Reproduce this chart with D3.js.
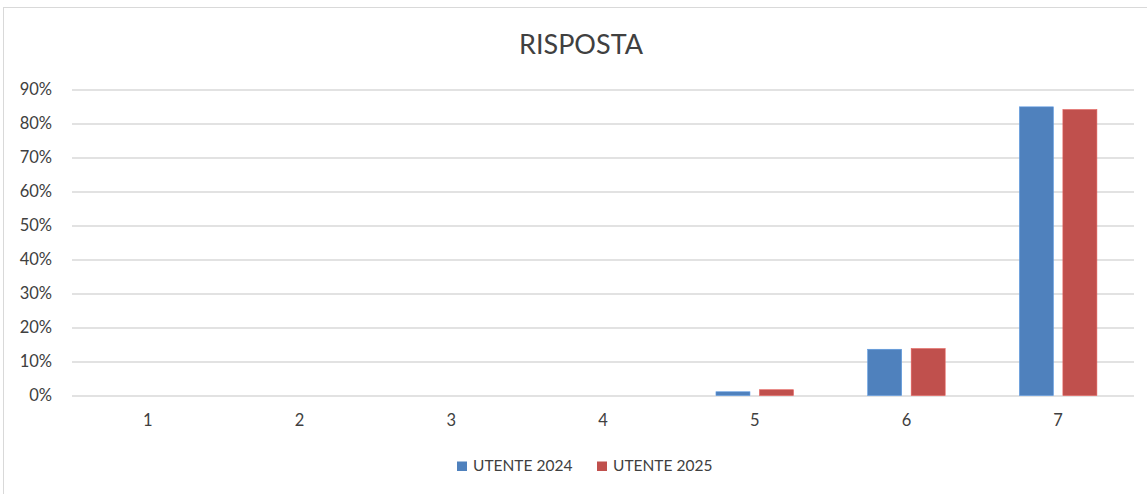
<!DOCTYPE html>
<html><head><meta charset="utf-8">
<script src="https://cdn.jsdelivr.net/npm/d3@7"></script>
<style>body{margin:0;background:#fff;} text{font-family:Lato,"Open Sans",sans-serif;}</style>
</head><body>
<svg id="c" width="1147" height="494"></svg>
<script>
const categories = ["1","2","3","4","5","6","7"];
const seriesNames = ["UTENTE 2024","UTENTE 2025"];
const utente2024 = [0,0,0,0,0.011,0.136,0.849];
const utente2025 = [0,0,0,0,0.017,0.138,0.841];
const yTicks = [0,0.1,0.2,0.3,0.4,0.5,0.6,0.7,0.8,0.9];
const colors = ["#4F81BD","#C0504D"];

const svg = d3.select("#c");
svg.append("rect").attr("x",3.5).attr("y",7.5).attr("width",1160).attr("height",500)
  .attr("fill","#fff").attr("stroke","#d9d9d9");

const x0 = 72, x1 = 1134, yTop = 89.5, yBot = 395.5;
const x = d3.scaleBand().domain(categories).range([x0,x1]).paddingInner(0).paddingOuter(0);
const y = d3.scaleLinear().domain([0,0.9]).range([yBot,yTop]);

const yAxis = d3.axisLeft(y).tickValues(yTicks).tickFormat(d3.format(".0%")).tickSize(-(x1-x0)).tickPadding(20);
const gy = svg.append("g").attr("transform",`translate(${x0},0)`).call(yAxis);
gy.select(".domain").remove();
gy.selectAll(".tick line").attr("stroke","#d9d9d9").attr("stroke-width",1.3);
gy.selectAll(".tick text").attr("fill","#404040").attr("font-size",16.5).attr("text-anchor","end").attr("x",-20);

const xAxis = d3.axisBottom(x).tickSize(0).tickPadding(19);
const gx = svg.append("g").attr("transform",`translate(0,${yBot})`).call(xAxis);
gx.select(".domain").remove();
gx.selectAll(".tick text").attr("fill","#404040").attr("font-size",16.5);

const barW = 34, gap = 9.5;
const series = [utente2024, utente2025];
series.forEach((vals, si) => {
  svg.append("g").selectAll("rect").data(vals).join("rect")
    .attr("x",(d,i)=> x(categories[i]) + x.bandwidth()/2 - (barW*2+gap)/2 + si*(barW+gap))
    .attr("width",barW)
    .attr("y",d=>y(d))
    .attr("height",d=>yBot-y(d))
    .attr("fill",colors[si])
    .attr("stroke", d3.color(colors[si]).brighter(0.5)).attr("stroke-width",0.6)
    .attr("display", d=> d>0 ? null : "none");
});

svg.append("text").attr("x",581).attr("y",54).attr("text-anchor","middle")
  .attr("font-size",27).attr("fill","#404040").text("RISPOSTA");

const leg = svg.append("g");
const legX = [457, 597];
seriesNames.forEach((n,i)=>{
  leg.append("rect").attr("x",legX[i]).attr("y",461.5).attr("width",10).attr("height",9.5).attr("fill",colors[i]);
  leg.append("text").attr("x",legX[i]+16).attr("y",471).attr("font-size",15.5).attr("fill","#404040").text(n);
});
</script>
</body></html>
